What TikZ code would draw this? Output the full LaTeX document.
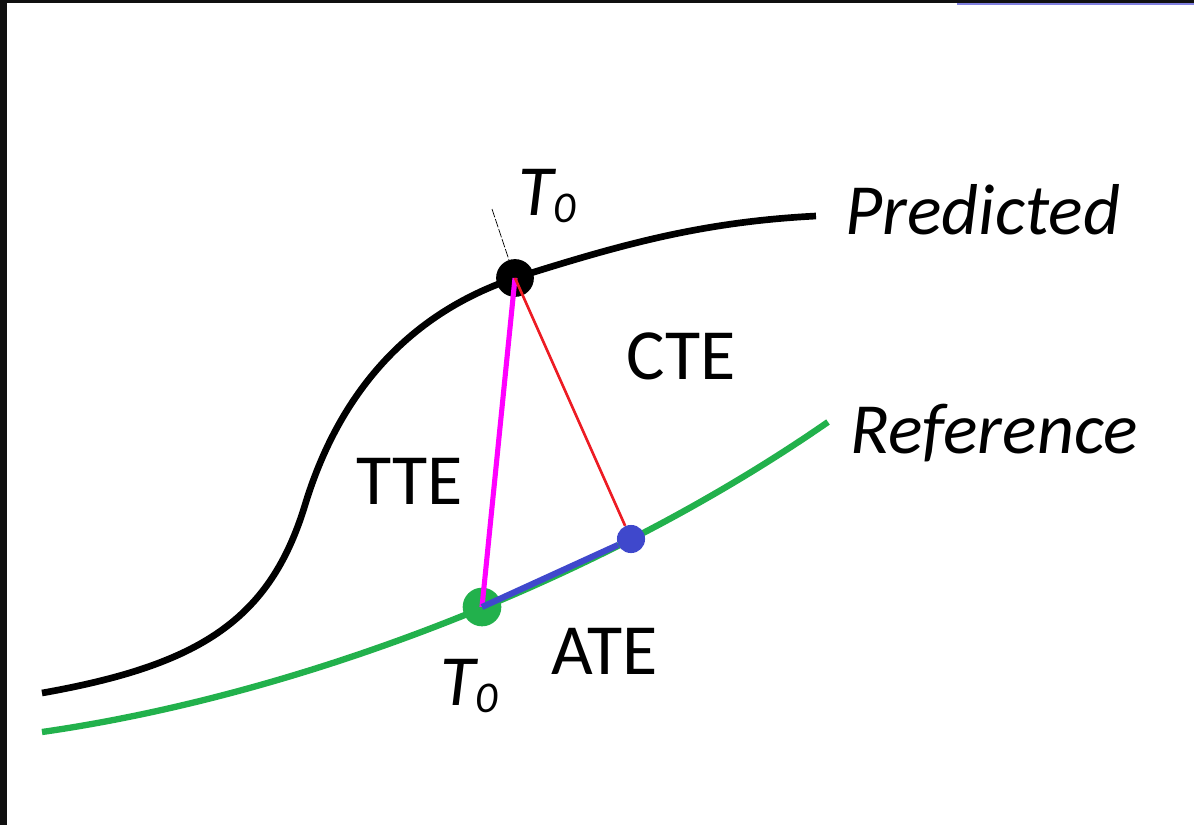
\documentclass[tikz,border=0pt]{standalone}
\usepackage{fontspec}
\setmainfont{Carlito}
\usepackage{xcolor}
\usetikzlibrary{positioning}
\definecolor{refgreen}{RGB}{34,177,76}
\definecolor{ttemag}{RGB}{255,0,255}
\definecolor{ctered}{RGB}{237,28,36}
\definecolor{ateblue}{RGB}{63,72,204}
\definecolor{framedark}{RGB}{16,16,16}
\definecolor{framelite}{RGB}{128,128,224}
\tikzset{
  predline/.style ={black,line width=3.8pt},
  refline/.style  ={refgreen,line width=3.6pt},
  dot/.style      ={circle,inner sep=0pt},
  tteedge/.style  ={ttemag,line width=2.9pt},
  cteedge/.style  ={ctered,line width=1.5pt},
  ateedge/.style  ={ateblue,line width=3.5pt},
  tickline/.style ={black,line width=0.4pt,dash pattern=on 5pt off 1pt},
  lbl/.style      ={font=\fontsize{41}{46}\selectfont,inner sep=0pt,anchor=base west},
}
\newcommand{\Tzero}{\textit{T\raisebox{-4pt}{\fontsize{25}{25}\selectfont 0}}}

\begin{document}
\begin{tikzpicture}[x=0.02cm,y=-0.02cm]
  \useasboundingbox (0,0) rectangle (1194,825);
  \fill[framedark] (0,0) rectangle (7,825);
  \fill[framedark] (0,0) rectangle (1194,3);
  \fill[framelite] (957,3) rectangle (1194,5);
  % trajectories
  \draw[predline] (42,693) .. controls (200,665) and (270,620) .. (305,505)
     .. controls (332,416) and (390,320) .. (515,278)
     .. controls (620,245) and (700,222) .. (816,216);
  \draw[refline] (42,732) .. controls (300,695) and (600,580) .. (828,422);
  % points at T0
  \node[dot,fill=black,minimum size=21.5pt] (p0) at (515,278) {};
  \node[dot,fill=refgreen,minimum size=22pt] (r0) at (482,607) {};
  \node[dot,fill=ateblue,minimum size=16pt] (a1) at (631,539) {};
  \coordinate (tk) at (492,209);
  \draw[tickline] (tk) -- (p0.center);
  \draw[tteedge] (p0.center) -- (r0.center);
  \draw[cteedge] (p0.center) -- (a1);
  \draw[ateedge] (r0.center) -- (a1);
  % labels
  \node[lbl] (t0p) at (518,215) {\Tzero};
  \node[lbl] (t0r) at (440,705) {\Tzero};
  \node[lbl] (pred) at (845,234) {\textit{Predicted}};
  \node[lbl] (ref) at (850,453) {\textit{Reference}};
  \node[lbl] (cte) at (626,379) {CTE};
  \node[lbl] (tte) at (356,504) {TTE};
  \node[lbl] (ate) at (551,674) {ATE};
\end{tikzpicture}
\end{document}
